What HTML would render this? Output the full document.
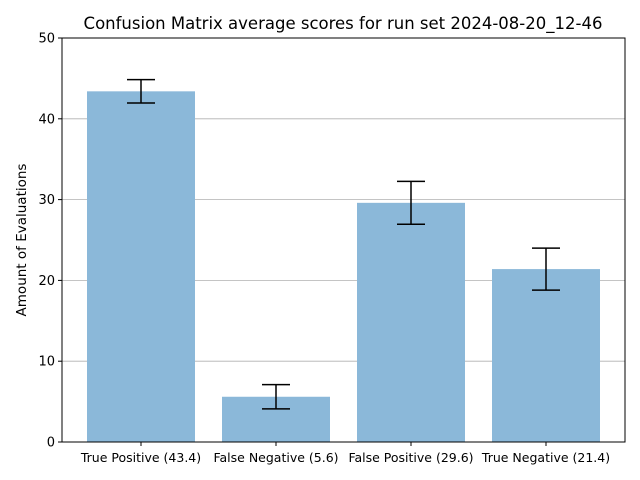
<!DOCTYPE html>
<html><head><meta charset="utf-8"><style>
body{margin:0;background:#fff;}
svg{display:block;font-family:"DejaVu Sans","Liberation Sans",sans-serif;}
</style></head><body>
<svg id="chart" width="640" height="480">
<rect width="640" height="480" fill="#fff"/>
<text x="343" y="29" font-size="16.5" text-anchor="middle">Confusion Matrix average scores for run set 2024-08-20_12-46</text>
<g id="grid"></g><g id="bars"></g><g id="errs"></g><g id="axes"></g>
<text transform="translate(26,240) rotate(-90)" font-size="13.5" text-anchor="middle">Amount of Evaluations</text>
</svg>
<script>
const categories=["True Positive (43.4)","False Negative (5.6)","False Positive (29.6)","True Negative (21.4)"];
const values=[43.4,5.6,29.6,21.4];
const errors=[1.45,1.5,2.65,2.6];
const yTicks=[0,10,20,30,40,50];
const L=62,R=625,T=38,B=442,ymax=50;
const ns="http://www.w3.org/2000/svg";
const y=v=>B-(v/ymax)*(B-T);
const step=135;
const x=i=>L+79+i*step;
function mk(t,a,p){const e=document.createElementNS(ns,t);for(const k in a)e.setAttribute(k,a[k]);p.appendChild(e);return e;}
const g=document.getElementById('grid'),b=document.getElementById('bars'),er=document.getElementById('errs'),ax=document.getElementById('axes');
yTicks.forEach(v=>{
 if(v>0&&v<ymax){const l=mk('line',{x1:L,x2:R,y1:y(v),y2:y(v),stroke:'#b0b0b0','stroke-width':0.8},g);
 
 }
 mk('line',{x1:L-4,x2:L,y1:y(v),y2:y(v),stroke:'#000'},ax);
 const t=mk('text',{x:L-7,y:y(v)+4.5,'font-size':13,'text-anchor':'end'},ax);t.textContent=v;
 
 
});
const w=108;
values.forEach((v,i)=>{
 const r=mk('rect',{x:x(i)-w/2,y:y(v),width:w,height:B-y(v),fill:'#8bb8d9'},b);
 
 
 const e=errors[i],cx=x(i);
 const eg=mk('g',{stroke:'#000','stroke-width':1.5},er);
 
 
 mk('line',{x1:cx,x2:cx,y1:y(v-e),y2:y(v+e)},eg);
 mk('line',{x1:cx-14,x2:cx+14,y1:y(v-e),y2:y(v-e)},eg);
 mk('line',{x1:cx-14,x2:cx+14,y1:y(v+e),y2:y(v+e)},eg);
 mk('line',{x1:cx,x2:cx,y1:B,y2:B+4,stroke:'#000'},ax);
 const t=mk('text',{x:cx,y:B+20,'font-size':12.5,'text-anchor':'middle'},ax);t.textContent=categories[i];
 
 
});
const fr=mk('rect',{x:L,y:T,width:R-L,height:B-T,fill:'none',stroke:'#000','stroke-width':1},ax);


</script>
</body></html>
